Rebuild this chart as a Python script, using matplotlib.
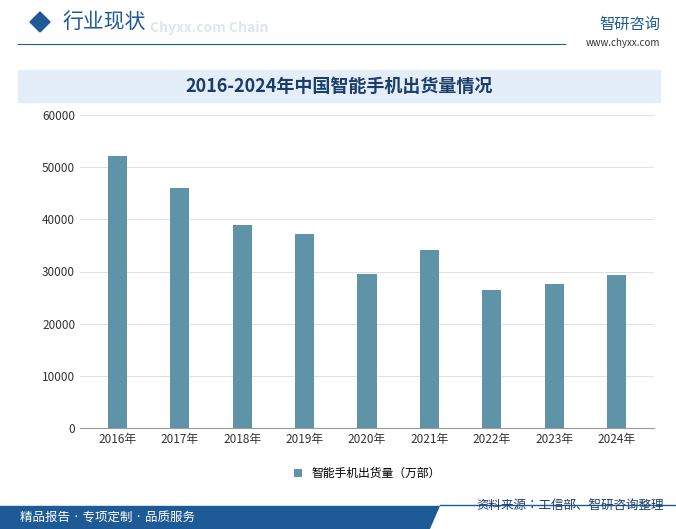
import matplotlib
matplotlib.use("Agg")
import matplotlib.pyplot as plt
from matplotlib.patches import Rectangle, Polygon
from matplotlib import font_manager

names = {f.name for f in font_manager.fontManager.ttflist}
cjk = [n for n in ["Noto Sans CJK SC", "Noto Sans CJK JP", "Noto Sans CJK TC", "Noto Sans CJK KR"] if n in names]
plt.rcParams["font.family"] = "sans-serif"
plt.rcParams["font.sans-serif"] = cjk + ["DejaVu Sans"]

years = ["2016年", "2017年", "2018年", "2019年", "2020年", "2021年", "2022年", "2023年", "2024年"]
shipments = [52200, 46100, 39000, 37200, 29500, 34200, 26400, 27600, 29400]
yticks = [0, 10000, 20000, 30000, 40000, 50000, 60000]

W, H = 676, 529
fig = plt.figure(figsize=(W/100, H/100), dpi=100)

def fx(x): return x / W
def fy(y): return 1 - y / H

fig.patches.append(Polygon([[fx(30), fy(22)], [fx(40), fy(12)], [fx(50), fy(22)], [fx(40), fy(32)]],
                           closed=True, transform=fig.transFigure, color="#1e5a96"))
fig.text(fx(62), fy(22), "行业现状", fontsize=15, color="#1e5a96", va="center", ha="left")
fig.text(fx(150), fy(28), "Chyxx.com Chain", fontsize=10, color="#dde6ee", va="center", ha="left", weight="bold")
fig.lines.append(plt.Line2D([fx(18), fx(565)], [fy(44), fy(44)], transform=fig.transFigure, color="#1e5a96", lw=0.8))
fig.text(fx(660), fy(24), "智研咨询", fontsize=11, color="#1e5a96", va="center", ha="right")
fig.text(fx(660), fy(43), "www.chyxx.com", fontsize=7, color="#333333", va="center", ha="right")

fig.patches.append(Rectangle((fx(18), fy(102)), fx(642), (102-70)/H, transform=fig.transFigure, color="#e3eef8"))
fig.text(fx(339), fy(86), "2016-2024年中国智能手机出货量情况", fontsize=13, weight="bold",
         color="#1a3d6b", ha="center", va="center")

ax = fig.add_axes([fx(80), fy(428), fx(654-80), (428-115)/H])
ax.bar(range(len(years)), shipments, width=0.31, color="#5e93a8", label="智能手机出货量（万部）")
ax.set_ylim(0, 60000)
ax.set_yticks(yticks)
ax.set_xlim(-0.6, len(years) - 0.4)
ax.set_xticks(range(len(years)))
ax.set_xticklabels(years)
ax.tick_params(axis="both", labelsize=8.5, colors="#333333", length=0)
ax.grid(axis="y", color="#e0e0e0", lw=0.8)
ax.set_axisbelow(True)
for s in ["top", "right", "left"]:
    ax.spines[s].set_visible(False)
ax.spines["bottom"].set_color("#999999")
ax.legend(loc="upper center", bbox_to_anchor=(0.5, -0.09), frameon=False, fontsize=8.5,
          handlelength=0.7, handleheight=0.7)

fig.patches.append(Rectangle((0, 0), 1, (529-506)/H, transform=fig.transFigure, color="#1e5a96"))
fig.patches.append(Polygon([[fx(440), fy(506)], [fx(676), fy(506)], [fx(676), fy(529)], [fx(430), fy(529)]],
                           closed=True, transform=fig.transFigure, color="white"))
fig.lines.append(plt.Line2D([fx(440), fx(676)], [fy(505), fy(505)], transform=fig.transFigure, color="#1e5a96", lw=1))
fig.text(fx(20), fy(518), "精品报告 · 专项定制 · 品质服务", fontsize=9, color="white", va="center")
fig.text(fx(664), fy(505), "资料来源：工信部、智研咨询整理", fontsize=9, color="#1a3d6b", va="center", ha="right")

fig.savefig("out.png", dpi=100)
